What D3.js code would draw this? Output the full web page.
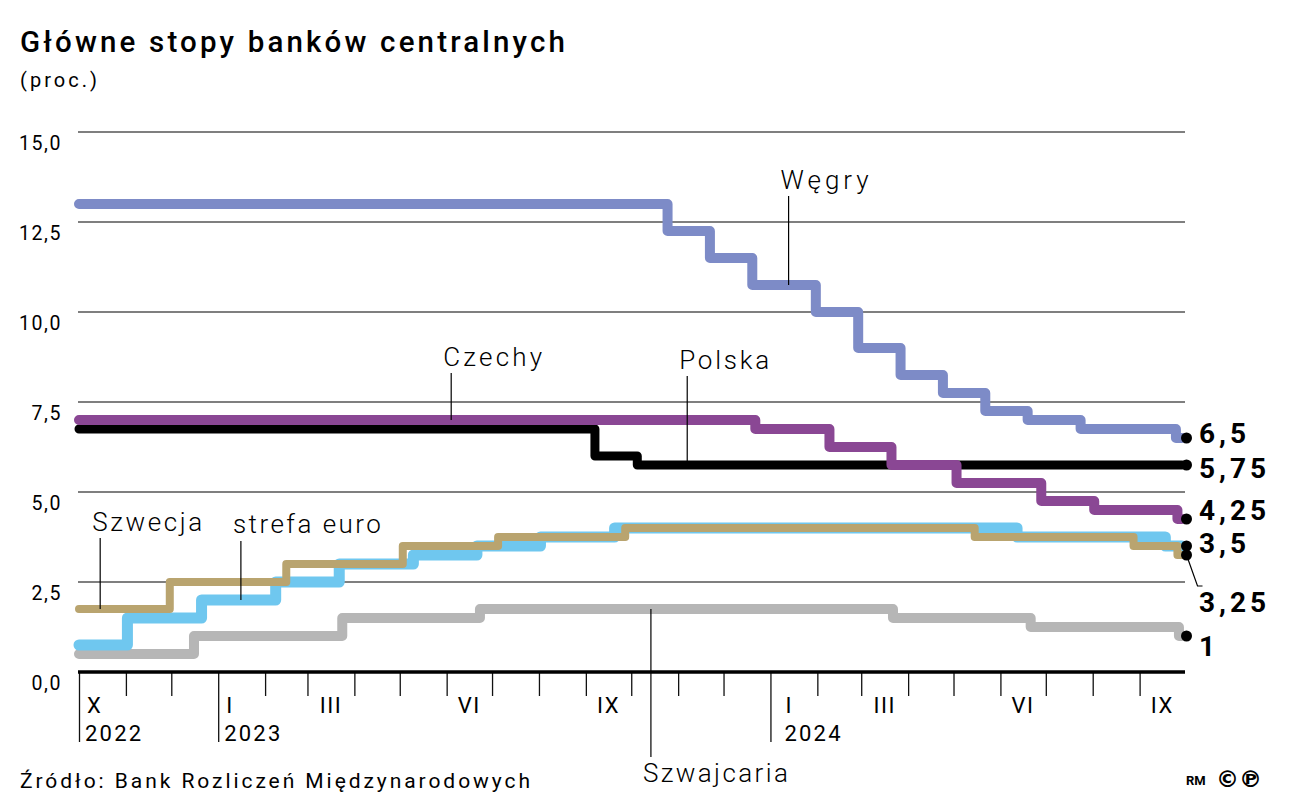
<!DOCTYPE html>
<html>
<head>
<meta charset="utf-8">
<script src="https://cdn.jsdelivr.net/npm/d3@7"></script>
<style>
  body { margin: 0; background: #fff; }
  svg { display: block; font-family: Roboto, "Noto Sans", sans-serif; color: #111; }
</style>
</head>
<body>
<svg id="chart" width="1313" height="808"></svg>
<script>
// policy rates: [date of change, rate in %]
const hungary = [["2022-10-01", 13], ["2023-10-25", 12.25], ["2023-11-22", 11.5], ["2023-12-20", 10.75],
  ["2024-01-31", 10], ["2024-02-28", 9], ["2024-03-27", 8.25], ["2024-04-24", 7.75], ["2024-05-22", 7.25],
  ["2024-06-19", 7], ["2024-07-24", 6.75], ["2024-09-25", 6.5]];
const czechia = [["2022-10-01", 7], ["2023-12-22", 6.75], ["2024-02-09", 6.25], ["2024-03-21", 5.75],
  ["2024-05-03", 5.25], ["2024-06-28", 4.75], ["2024-08-02", 4.5], ["2024-09-26", 4.25]];
const poland = [["2022-10-01", 6.75], ["2023-09-07", 6], ["2023-10-05", 5.75]];
const euroArea = [["2022-10-01", 0.75], ["2022-11-02", 1.5], ["2022-12-21", 2], ["2023-02-08", 2.5],
  ["2023-03-22", 3], ["2023-05-10", 3.25], ["2023-06-21", 3.5], ["2023-08-02", 3.75], ["2023-09-20", 4],
  ["2024-06-12", 3.75], ["2024-09-18", 3.5]];
const sweden = [["2022-10-01", 1.75], ["2022-11-30", 2.5], ["2023-02-15", 3], ["2023-05-03", 3.5],
  ["2023-07-05", 3.75], ["2023-09-27", 4], ["2024-05-15", 3.75], ["2024-08-28", 3.5], ["2024-09-26", 3.25]];
const switzerland = [["2022-10-01", 0.5], ["2022-12-16", 1], ["2023-03-24", 1.5], ["2023-06-23", 1.75],
  ["2024-03-22", 1.5], ["2024-06-21", 1.25], ["2024-09-27", 1]];

const startDate = "2022-10-01";
const lastDate = "2024-09-29";
const dotDate = "2024-10-02";
const axisEnd = "2024-10-01";

const yTicks = [0, 2.5, 5, 7.5, 10, 12.5, 15];
const monthLabels = [["2022-10-01", "X"], ["2023-01-01", "I"], ["2023-03-01", "III"], ["2023-06-01", "VI"],
  ["2023-09-01", "IX"], ["2024-01-01", "I"], ["2024-03-01", "III"], ["2024-06-01", "VI"], ["2024-09-01", "IX"]];
const yearLabels = [["2022-10-01", "2022"], ["2023-01-01", "2023"], ["2024-01-01", "2024"]];
const endLabels = [["6,5", 6.5], ["5,75", 5.75], ["4,25", 4.25], ["3,5", 3.5], ["3,25", 3.25], ["1", 1]];

// name labels: text, date where the leader touches the line, rate there
const nameLabels = [["Węgry", "2024-01-13", 10.75], ["Czechy", "2023-06-04", 7], ["Polska", "2023-11-07", 5.75],
  ["Szwecja", "2022-10-15", 1.75], ["strefa euro", "2023-01-16", 2], ["Szwajcaria", "2023-10-14", 1.75]];

const parse = d3.timeParse("%Y-%m-%d");
const svg = d3.select("#chart");

const x = d3.scaleTime().domain([parse(startDate), parse(axisEnd)]).range([79, 1185]);
const y = d3.scaleLinear().domain([0, 15]).range([672, 132]);

// title (the original face is wide, so stretch spacing to its width)
svg.append("text").attr("x", 20).attr("y", 52)
  .attr("textLength", 545).attr("lengthAdjust", "spacing")
  .style("font-size", "29.5px").style("font-weight", 500)
  .text("Główne stopy banków centralnych");
svg.append("text").attr("x", 20).attr("y", 87)
  .attr("textLength", 77).attr("lengthAdjust", "spacing")
  .style("font-size", "20px")
  .text("(proc.)");

// grid
const grid = svg.append("g");
grid.selectAll("line").data(yTicks.filter(d => d > 0)).join("line")
  .attr("x1", 78).attr("x2", 1185)
  .attr("y1", d => y(d)).attr("y2", d => y(d))
  .attr("stroke", "#000").attr("stroke-width", 1.2);
grid.selectAll("text").data(yTicks).join("text")
  .attr("x", 62).attr("y", d => y(d) + 18)
  .attr("text-anchor", "end")
  .style("font-size", "19.5px").style("letter-spacing", "1.6px")
  .text(d => d3.format(".1f")(d).replace(".", ","));

// series
const series = [
  { name: "Szwajcaria", data: switzerland, color: "#b6b6b6", width: 10 },
  { name: "strefa euro", data: euroArea, color: "#6fc7ef", width: 11 },
  { name: "Szwecja", data: sweden, color: "#b9a46f", width: 8 },
  { name: "Polska", data: poland, color: "#000000", width: 9 },
  { name: "Czechy", data: czechia, color: "#8a4794", width: 10 },
  { name: "Węgry", data: hungary, color: "#7d8bc7", width: 10 }
];

const line = d3.line()
  .x(d => x(d[0])).y(d => y(d[1]))
  .curve(d3.curveStepAfter);

series.forEach(s => {
  const pts = s.data.map(d => [parse(d[0]), d[1]]);
  pts.push([parse(lastDate), s.data[s.data.length - 1][1]]);
  svg.append("path")
    .attr("d", line(pts))
    .attr("fill", "none")
    .attr("stroke", s.color)
    .attr("stroke-width", s.width)
    .attr("stroke-linecap", "round")
    .attr("stroke-linejoin", "round");
});

// x axis
const months = d3.timeMonth.range(parse(startDate), parse(axisEnd));
const longTicks = yearLabels.map(d => +parse(d[0]));
const xAxis = svg.append("g").attr("transform", "translate(0,672)")
  .call(d3.axisBottom(x).tickValues(months).tickSize(24).tickFormat(""));
xAxis.select(".domain").remove();
xAxis.selectAll(".tick line")
  .attr("stroke-width", 1.3)
  .attr("y2", d => longTicks.includes(+d) ? 70 : 24);

svg.append("line")
  .attr("x1", 78).attr("x2", 1185).attr("y1", 672).attr("y2", 672)
  .attr("stroke", "#000").attr("stroke-width", 3.5);

svg.append("g").selectAll("text").data(monthLabels).join("text")
  .attr("x", d => {
    const t0 = parse(d[0]);
    if (longTicks.includes(+t0)) return x(t0) + (d[0] === "2024-01-01" ? 15 : 8);
    return (x(t0) + x(d3.timeMonth.offset(t0, 1))) / 2;
  })
  .attr("y", 713)
  .attr("text-anchor", d => longTicks.includes(+parse(d[0])) ? "start" : "middle")
  .style("font-size", "22px").style("letter-spacing", "1.5px")
  .text(d => d[1]);

svg.append("g").selectAll("text").data(yearLabels).join("text")
  .attr("x", d => x(parse(d[0])) + (d[0] === "2024-01-01" ? 14 : 6))
  .attr("y", 741)
  .style("font-size", "22px").style("letter-spacing", "2.2px")
  .text(d => d[1]);

// name labels with leaders
const labelLayout = {
  "Węgry": { ty: 189, ly: 196, w: 88 },
  "Czechy": { ty: 366, ly: 373, w: 99 },
  "Polska": { ty: 369, ly: 376, w: 90 },
  "Szwecja": { ty: 531, ly: 538, w: 110 },
  "strefa euro": { ty: 533, ly: 541, w: 148 },
  "Szwajcaria": { ty: 782, ly: 757, w: 145 }
};
const names = svg.append("g");
nameLabels.forEach(([label, date, v]) => {
  const lx = x(parse(date));
  const lay = labelLayout[label];
  names.append("line")
    .attr("x1", lx).attr("x2", lx)
    .attr("y1", y(v)).attr("y2", lay.ly)
    .attr("stroke", "#000").attr("stroke-width", 1.2);
  names.append("text")
    .attr("x", lx - 8).attr("y", lay.ty)
    .attr("textLength", lay.w).attr("lengthAdjust", "spacing")
    .style("font-size", "26px").style("font-weight", 300)
    .text(label);
});

// end dots and values
const labelShift = { "6,5": -5, "5,75": 3, "4,25": -9, "3,5": -3, "3,25": 47, "1": 10 };
const ends = svg.append("g");
ends.selectAll("circle").data(endLabels).join("circle")
  .attr("cx", x(parse(dotDate))).attr("cy", d => y(d[1]))
  .attr("r", 5.5).attr("fill", "#000");
ends.append("polyline")
  .attr("points", [[x(parse(dotDate)), y(3.25)], [x(parse(dotDate)) + 11, y(3.25) + 31], [x(parse(dotDate)) + 16, y(3.25) + 31]].join(" "))
  .attr("fill", "none").attr("stroke", "#000").attr("stroke-width", 1.2);
ends.selectAll("text").data(endLabels).join("text")
  .attr("x", 1199)
  .attr("y", d => y(d[1]) + labelShift[d[0]] + 10)
  .style("font-size", "28px").style("font-weight", 700).style("letter-spacing", "4px")
  .text(d => d[0]);

// footer
svg.append("text").attr("x", 20).attr("y", 788)
  .attr("textLength", 510).attr("lengthAdjust", "spacing")
  .style("font-size", "21px")
  .text("Źródło: Bank Rozliczeń Międzynarodowych");
svg.append("text").attr("x", 1186).attr("y", 785)
  .style("font-size", "13px").style("font-weight", 700)
  .text("RM");
svg.append("text").attr("x", 1216).attr("y", 787)
  .style("font-family", "'DejaVu Sans', sans-serif")
  .style("font-size", "23px").style("font-weight", 700)
  .text("©℗");
</script>
</body>
</html>
